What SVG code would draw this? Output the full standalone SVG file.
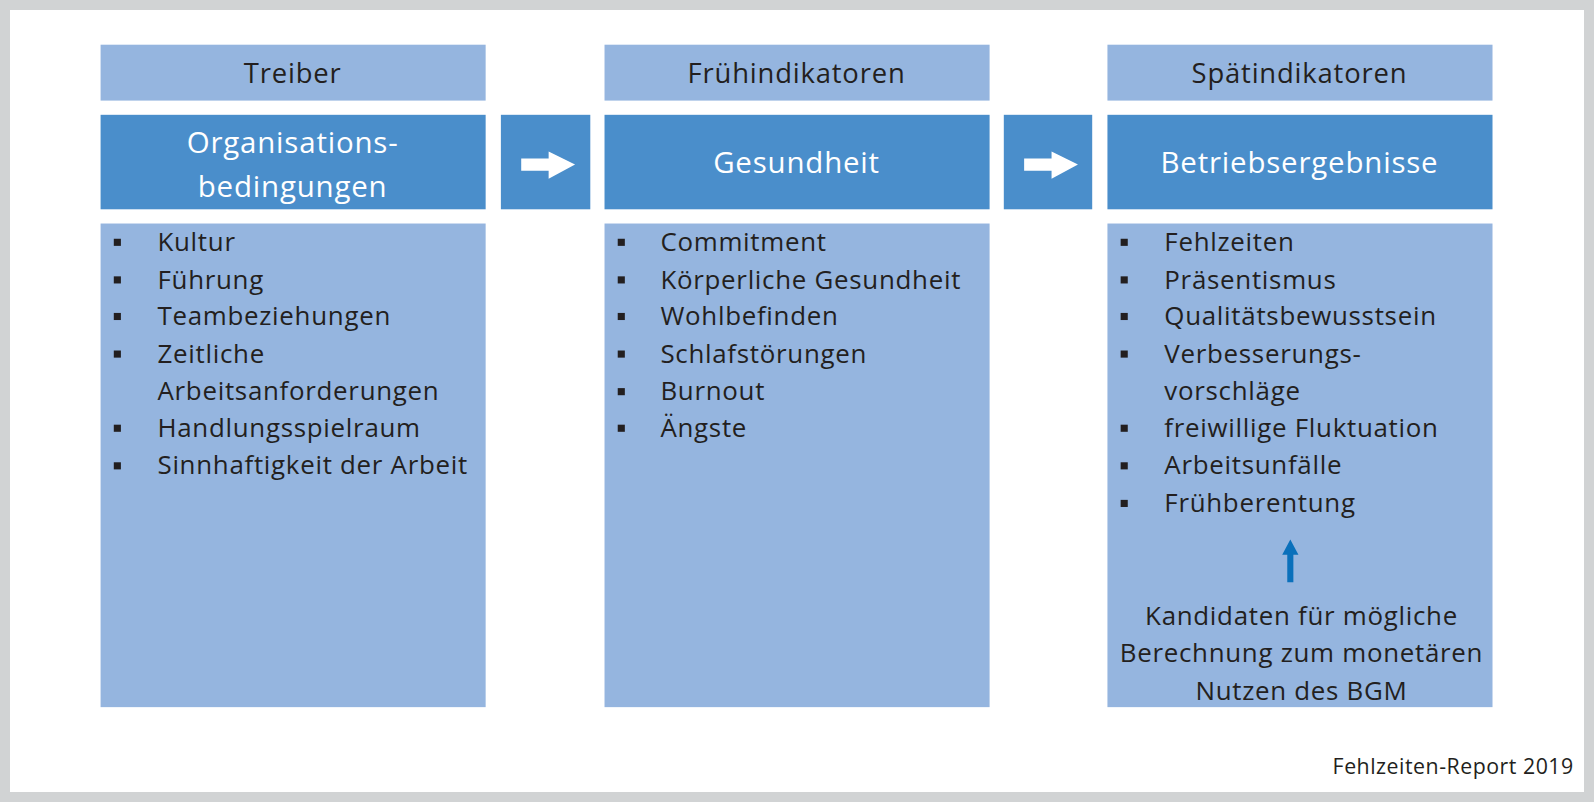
<svg xmlns="http://www.w3.org/2000/svg" width="1594" height="802" viewBox="0 0 1594 802">
<style>
.hd{fill:#95b5df}.dk{fill:#4a8ecb}.bd{fill:#95b5df}
text{font-family:"Open Sans","Noto Sans",sans-serif}
.h{font-size:27px;letter-spacing:0.8px;fill:#231f20;text-anchor:middle}
.t{font-size:29px;letter-spacing:0.8px;fill:#fff;text-anchor:middle}
.b{font-size:25.5px;letter-spacing:0.7px;fill:#231f20}
.s{fill:#231f20}
</style>
<defs><g id="bul"><rect width="7" height="7" class="s"/></g></defs>
<rect width="1594" height="802" fill="#d1d3d4"/>
<rect x="10" y="10" width="1574" height="782" fill="#fff"/>
<g transform="scale(1.016)">
<g id="col1">
<rect class="hd" x="99" y="44" width="379" height="55"/>
<text class="h" x="288" y="82">Treiber</text>
<rect class="dk" x="99" y="113" width="379" height="93"/>
<text class="t" x="288" y="151">Organisations-</text>
<text class="t" x="288" y="194">bedingungen</text>
<rect class="bd" x="99" y="220" width="379" height="476"/>
<g class="b">
<text x="155" y="247">Kultur</text><text x="155" y="284">Führung</text><text x="155" y="320">Teambeziehungen</text><text x="155" y="357">Zeitliche</text><text x="155" y="394">Arbeitsanforderungen</text><text x="155" y="430">Handlungsspielraum</text><text x="155" y="467">Sinnhaftigkeit der Arbeit</text>
</g>
<use href="#bul" x="112" y="235"/><use href="#bul" x="112" y="272"/><use href="#bul" x="112" y="308"/><use href="#bul" x="112" y="345"/><use href="#bul" x="112" y="418"/><use href="#bul" x="112" y="455"/>
</g>
<g id="col2">
<rect class="hd" x="595" y="44" width="379" height="55"/>
<text class="h" x="784" y="82">Frühindikatoren</text>
<rect class="dk" x="595" y="113" width="379" height="93"/>
<text class="t" x="784" y="170">Gesundheit</text>
<rect class="bd" x="595" y="220" width="379" height="476"/>
<g class="b">
<text x="650" y="247">Commitment</text><text x="650" y="284">Körperliche Gesundheit</text><text x="650" y="320">Wohlbefinden</text><text x="650" y="357">Schlafstörungen</text><text x="650" y="394">Burnout</text><text x="650" y="430">Ängste</text>
</g>
<use href="#bul" x="608" y="235"/><use href="#bul" x="608" y="272"/><use href="#bul" x="608" y="308"/><use href="#bul" x="608" y="345"/><use href="#bul" x="608" y="382"/><use href="#bul" x="608" y="418"/>
</g>
<g id="col3">
<rect class="hd" x="1090" y="44" width="379" height="55"/>
<text class="h" x="1279" y="82">Spätindikatoren</text>
<rect class="dk" x="1090" y="113" width="379" height="93"/>
<text class="t" x="1279" y="170">Betriebsergebnisse</text>
<rect class="bd" x="1090" y="220" width="379" height="476"/>
<g class="b">
<text x="1146" y="247">Fehlzeiten</text><text x="1146" y="284">Präsentismus</text><text x="1146" y="320">Qualitätsbewusstsein</text><text x="1146" y="357">Verbesserungs-</text><text x="1146" y="394">vorschläge</text><text x="1146" y="430">freiwillige Fluktuation</text><text x="1146" y="467">Arbeitsunfälle</text><text x="1146" y="504">Frühberentung</text>
</g>
<use href="#bul" x="1103" y="235"/><use href="#bul" x="1103" y="272"/><use href="#bul" x="1103" y="308"/><use href="#bul" x="1103" y="345"/><use href="#bul" x="1103" y="418"/><use href="#bul" x="1103" y="455"/><use href="#bul" x="1103" y="492"/>
<g class="b" text-anchor="middle"><text x="1281" y="615">Kandidaten für mögliche</text><text x="1281" y="652">Berechnung zum monetären</text><text x="1281" y="689">Nutzen des BGM</text></g>
</g>
<g id="connectors">
<rect class="dk" x="493" y="113" width="88" height="93"/>
<rect class="dk" x="988" y="113" width="87" height="93"/>
<polygon fill="#fff" points="513,156 540,156 540,149 566,162 540,176 540,168 513,168"/>
<polygon fill="#fff" points="1008,156 1035,156 1035,149 1061,162 1035,176 1035,168 1008,168"/>
<polygon fill="#0a70bb" points="1267,573 1273,573 1273,546 1278,546 1270,531 1262,546 1267,546"/>
</g>
<text x="1549" y="762" font-size="21" letter-spacing="0.5" fill="#231f20" text-anchor="end">Fehlzeiten-Report 2019</text>
</g>
</svg>
